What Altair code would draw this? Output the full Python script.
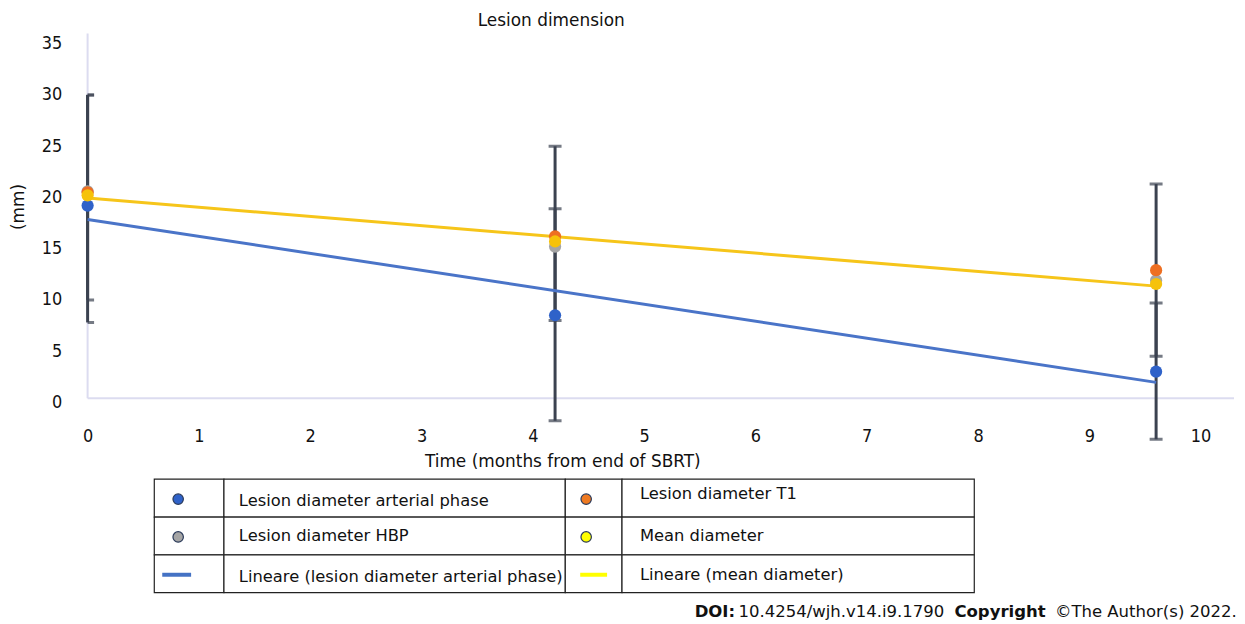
import altair as alt
import pandas as pd

# ---------------- data ----------------
months = [0, 4.2, 9.6]
series_names = [
    "Lesion diameter arterial phase",
    "Lesion diameter HBP",
    "Lesion diameter T1",
    "Mean diameter",
]
arterial = [19.2, 8.5, 3.0]
hbp = [20.6, 15.2, 11.9]
t1 = [20.5, 16.2, 12.9]
mean_d = [20.2, 15.7, 11.55]

err_months = [0, 0, 4.2, 4.2, 9.6, 9.6]
err_low = [7.8, 10.0, -1.8, 8.0, -3.6, 4.5]
err_high = [30.0, 30.0, 25.0, 18.9, 21.3, 9.7]

x_ticks = list(range(0, 11))
y_ticks = list(range(0, 36, 5))

legend_labels = [
    "Lesion diameter arterial phase",
    "Lesion diameter T1",
    "Lesion diameter HBP",
    "Mean diameter",
    "Lineare (lesion diameter arterial phase)",
    "Lineare (mean diameter)",
]
legend_row = [0, 0, 1, 1, 2, 2]
legend_col = [0, 1, 0, 1, 0, 1]
legend_kind = ["circle", "circle", "circle", "circle", "line", "line"]

# ---------------- styles ----------------
FONT = "DejaVu Sans"
TICK_FONT = "DejaVu Sans Condensed, Liberation Sans"
point_colors = ["#2f62c9", "#a5a5a5", "#ee6f22", "#f6c20a"]
legend_colors = ["#2f62c9", "#ee7a22", "#a5a5a5", "#ffff00", "#4472c4", "#ffff00"]
ERR_COLOR = "#3b4250"
FRAME_COLOR = "#dcdcf0"
W, H = 1152, 412
X_MAX, Y_MIN, Y_MAX = 10.3, -4, 36
FRAME_BASE = 0.4  # the light frame line sits slightly above the 0 label

# legend table layout (pixels, relative to the plot's left edge)
COL_EDGES = [67, 137, 480, 537, 891]
ROW_H = 38
SYM_X = [91, 501]
TXT_X = [152, 555]
TXT_DY = [[3, -4], [0, 0], [3, 1]]
LINE_X = [[75, 104], [495, 522]]
LEG_H = 150

# ---------------- main plot ----------------
pts_rows = []
for name, vals in zip(series_names, [arterial, hbp, t1, mean_d]):
    for m, v in zip(months, vals):
        pts_rows.append({"months": m, "value": v, "series": name})
pts = pd.DataFrame(pts_rows)

err = pd.DataFrame({"months": err_months, "low": err_low, "high": err_high})
caps = pd.DataFrame({"months": err_months * 2, "value": err_low + err_high})

# plot frame (left and bottom lines of the plot area)
frame = pd.DataFrame(
    {
        "months": [0, 0],
        "m2": [0, X_MAX],
        "value": [FRAME_BASE, FRAME_BASE],
        "v2": [Y_MAX, FRAME_BASE],
    }
)

xscale = alt.Scale(domain=[0, X_MAX], nice=False, zero=False)
yscale = alt.Scale(domain=[Y_MIN, Y_MAX], nice=False, zero=False)

x_axis = alt.Axis(
    values=x_ticks,
    title="Time (months from end of SBRT)",
    grid=False,
    domain=False,
    ticks=False,
    labelPadding=0,
    labelFlush=False,
    offset=-16,
    labelFont=TICK_FONT,
    labelFontSize=18,
    labelColor="#111111",
    titleFontSize=17,
    titleFontWeight="normal",
    titleColor="#111111",
    titleX=477,
    titleY=34,
    titleBaseline="middle",
    titleAlign="center",
)
y_axis = alt.Axis(
    values=y_ticks,
    title="(mm)",
    grid=False,
    domain=False,
    ticks=False,
    labelPadding=26,
    labelFlush=False,
    labelFont=TICK_FONT,
    labelFontSize=18,
    labelColor="#111111",
    titleFontSize=17,
    titleFontWeight="normal",
    titleColor="#111111",
    titleX=-69,
    titleY=174,
    titleBaseline="middle",
    titleAlign="center",
)


def X(field="months"):
    return alt.X(f"{field}:Q", scale=xscale, axis=x_axis)


def Y(field="value"):
    return alt.Y(f"{field}:Q", scale=yscale, axis=y_axis)


base_pts = alt.Chart(pts)

frame_rules = alt.Chart(frame).mark_rule(color=FRAME_COLOR, strokeWidth=2).encode(
    x=X(), x2="m2:Q", y=Y(), y2="v2:Q"
)

err_rules = alt.Chart(err).mark_rule(color=ERR_COLOR, strokeWidth=3).encode(
    x=X(), y=Y("low"), y2="high:Q"
)
err_caps = alt.Chart(caps).mark_tick(
    color=ERR_COLOR, orient="horizontal", size=13, thickness=3, clip=True
).encode(x=X(), y=Y())

trend_art = (
    base_pts.transform_filter(alt.datum.series == series_names[0])
    .transform_regression("months", "value", extent=[0, 9.6])
    .mark_line(color="#4a74c8", strokeWidth=3)
    .encode(x=X(), y=Y())
)
trend_mean = (
    base_pts.transform_filter(alt.datum.series == series_names[3])
    .transform_regression("months", "value", extent=[0, 9.6])
    .mark_line(color="#f6c51a", strokeWidth=3)
    .encode(x=X(), y=Y())
)

points = base_pts.mark_circle(size=150, opacity=1).encode(
    x=X(),
    y=Y(),
    color=alt.Color(
        "series:N",
        scale=alt.Scale(domain=series_names, range=point_colors),
        legend=None,
    ),
)

main = alt.layer(
    frame_rules, err_rules, err_caps, trend_art, trend_mean, points
).properties(
    width=W,
    height=H,
    title=alt.TitleParams(
        "Lesion dimension",
        anchor="start",
        dx=470,
        fontSize=17,
        fontWeight="normal",
        color="#111111",
        offset=2,
    ),
)

# ---------------- legend table ----------------
cells = []
for r in range(3):
    for c in range(4):
        cells.append(
            {"x": COL_EDGES[c], "x2": COL_EDGES[c + 1], "y": r * ROW_H, "y2": (r + 1) * ROW_H}
        )
cells = pd.DataFrame(cells)

leg = pd.DataFrame(
    {
        "label": legend_labels,
        "row": legend_row,
        "col": legend_col,
        "kind": legend_kind,
        "color": legend_colors,
    }
)
leg["tx"] = [TXT_X[c] for c in leg["col"]]
leg["ty"] = [r * ROW_H + ROW_H / 2 + TXT_DY[r][c] for r, c in zip(leg["row"], leg["col"])]
leg["sx"] = [SYM_X[c] for c in leg["col"]]
leg["sy"] = [r * ROW_H + ROW_H / 2 + 1 for r in leg["row"]]
leg["lx"] = [LINE_X[c][0] for c in leg["col"]]
leg["lx2"] = [LINE_X[c][1] for c in leg["col"]]

lx = alt.Scale(domain=[0, W], nice=False, zero=False)
ly = alt.Scale(domain=[0, LEG_H], nice=False, zero=False, reverse=True)

cell_marks = alt.Chart(cells).mark_rect(
    fill="white", stroke="#222222", strokeWidth=1.2
).encode(
    x=alt.X("x:Q", scale=lx, axis=None),
    x2="x2:Q",
    y=alt.Y("y:Q", scale=ly, axis=None),
    y2="y2:Q",
)
leg_text = alt.Chart(leg).mark_text(
    align="left", baseline="middle", fontSize=16.4, color="#111111"
).encode(
    x=alt.X("tx:Q", scale=lx, axis=None),
    y=alt.Y("ty:Q", scale=ly, axis=None),
    text="label:N",
)
leg_circles = alt.Chart(leg).transform_filter(alt.datum.kind == "circle").mark_point(
    shape="circle", size=110, filled=True, stroke="#2a3a5a", strokeWidth=1.2, opacity=1
).encode(
    x=alt.X("sx:Q", scale=lx, axis=None),
    y=alt.Y("sy:Q", scale=ly, axis=None),
    fill=alt.Fill("color:N", scale=None),
)
leg_lines = alt.Chart(leg).transform_filter(alt.datum.kind == "line").mark_rule(
    strokeWidth=4
).encode(
    x=alt.X("lx:Q", scale=lx, axis=None),
    x2="lx2:Q",
    y=alt.Y("sy:Q", scale=ly, axis=None),
    color=alt.Color("color:N", scale=None),
)

# DOI / copyright line
doi_text = ["DOI:", "10.4254/wjh.v14.i9.1790", "Copyright", "\u00a9The Author(s) 2022."]
doi_bold = ["bold", "normal", "bold", "normal"]
DOI_X = [610, 654, 871, 972]
DOI_Y = 133
doi = pd.DataFrame({"t": doi_text, "w": doi_bold, "x": DOI_X, "y": [DOI_Y] * 4})
doi_layers = []
for wgt in ["bold", "normal"]:
    doi_layers.append(
        alt.Chart(doi)
        .transform_filter(alt.datum.w == wgt)
        .mark_text(align="left", baseline="middle", fontSize=16.6, fontWeight=wgt, color="#111111")
        .encode(
            x=alt.X("x:Q", scale=lx, axis=None),
            y=alt.Y("y:Q", scale=ly, axis=None),
            text="t:N",
        )
    )

legend_chart = alt.layer(
    cell_marks, leg_lines, leg_circles, leg_text, *doi_layers
).properties(width=W, height=LEG_H)

chart = (
    alt.vconcat(main, legend_chart, spacing=9)
    .properties(padding={"left": 2, "top": 3, "right": 0, "bottom": 0})
    .configure(font=FONT)
    .configure_view(strokeWidth=0)
)

chart.save("out.html", embed_options={"renderer": "svg", "actions": False})
